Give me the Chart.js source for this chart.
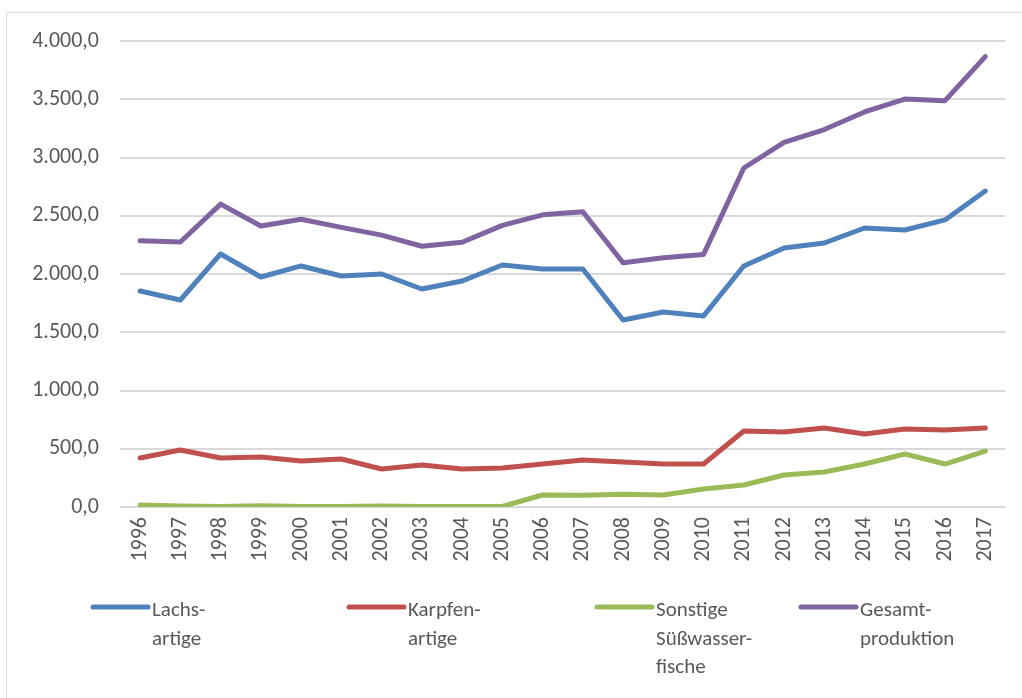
<!DOCTYPE html>
<html>
<head>
<meta charset="utf-8">
<script src="https://cdn.jsdelivr.net/npm/chart.js@4.4.1/dist/chart.umd.min.js"></script>
<style>
  html, body { margin: 0; padding: 0; background: #fff; }
  #wrap { width: 1022px; height: 698px; position: relative; }
</style>
</head>
<body>
<div id="wrap"><canvas id="chart" width="1022" height="698"></canvas></div>
<script>
// data (1.000 t)
const years = ["1996","1997","1998","1999","2000","2001","2002","2003","2004","2005","2006","2007","2008","2009","2010","2011","2012","2013","2014","2015","2016","2017"];
const lachsartige = [1854, 1777, 2172, 1974, 2069, 1983, 2000, 1871, 1940, 2077, 2043, 2043, 1605, 1674, 1640, 2069, 2223, 2266, 2395, 2378, 2464, 2712];
const karpfenartige = [421, 489, 421, 429, 395, 412, 326, 360, 326, 335, 369, 403, 386, 369, 369, 652, 644, 678, 627, 670, 661, 678];
const sonstige = [17, 9, 5, 10, 5, 5, 8, 5, 5, 5, 103, 100, 110, 103, 155, 189, 275, 300, 369, 455, 369, 480];
const gesamt = [2286, 2275, 2600, 2412, 2470, 2400, 2334, 2238, 2273, 2417, 2508, 2535, 2096, 2140, 2168, 2910, 3130, 3240, 3391, 3502, 3488, 3866];
const legendLabels = [["Lachs-", "artige"], ["Karpfen-", "artige"], ["Sonstige", "Süßwasser-", "fische"], ["Gesamt-", "produktion"]];
const seriesColors = ["#4f81bd", "#c0504d", "#9bbb59", "#8064a2"];
const yTicks = [0, 500, 1000, 1500, 2000, 2500, 3000, 3500, 4000];

const FONT = "Carlito, Lato, 'Open Sans', sans-serif";
const TEXT = "#595959";

function fmtDE(v) {
    const s = Math.round(v).toString().replace(/\B(?=(\d{3})+(?!\d))/g, ".");
    return s + ",0";
}

// frame + multi-line legend, drawn like the spreadsheet original
const excelLegend = {
    id: "excelLegend",
    afterDraw(chart, args, opts) {
        const ctx = chart.ctx;
        ctx.save();
        ctx.strokeStyle = "#d9d9d9"; ctx.lineWidth = 1;
        ctx.strokeRect(6.5, 12.5, 1200, 900);
        ctx.font = "21px " + FONT; ctx.fillStyle = TEXT; ctx.textBaseline = "middle";
        chart.data.datasets.forEach((ds, i) => {
            const x = opts.xs[i];
            ctx.strokeStyle = ds.borderColor; ctx.lineWidth = 5; ctx.lineCap = "round";
            ctx.beginPath(); ctx.moveTo(x, opts.y); ctx.lineTo(x + 55, opts.y); ctx.stroke();
            ds.legendText.forEach((line, j) => ctx.fillText(line, x + 59, opts.y + 4 + j * 28.5));
        });
        ctx.restore();
    }
};

const sets = [lachsartige, karpfenartige, sonstige, gesamt].map((d, i) => ({
    label: legendLabels[i].join(" "),
    legendText: legendLabels[i],
    data: d,
    borderColor: seriesColors[i],
    backgroundColor: seriesColors[i],
    borderWidth: 5,
    borderCapStyle: "round",
    borderJoinStyle: "round",
    pointRadius: 0,
    tension: 0
}));

new Chart(document.getElementById("chart"), {
    type: "line",
    data: { labels: years, datasets: sets },
    plugins: [excelLegend],
    options: {
        responsive: false,
        animation: false,
        layout: { padding: { top: 41, right: 14, bottom: 131, left: 0 } },
        plugins: {
            legend: { display: false },
            tooltip: { enabled: false },
            excelLegend: { xs: [93, 349, 597, 801], y: 607 }
        },
        scales: {
            x: {
                offset: true,
                grid: { display: false, drawTicks: false },
                border: { display: false },
                ticks: { color: TEXT, font: { family: FONT, size: 22 }, minRotation: 90, maxRotation: 90, padding: 10, autoSkip: false },
                afterFit: s => { s.height = 60; }
            },
            y: {
                min: 0, max: 4000,
                afterBuildTicks: s => { s.ticks = yTicks.map(v => ({ value: v })); },
                grid: { color: "#d9d9d9", lineWidth: 2, drawTicks: false },
                border: { display: false },
                ticks: { color: TEXT, font: { family: FONT, size: 22 }, padding: 21, callback: v => fmtDE(v) },
                afterFit: s => { s.width = 120; }
            }
        }
    }
});
</script>
</body>
</html>
